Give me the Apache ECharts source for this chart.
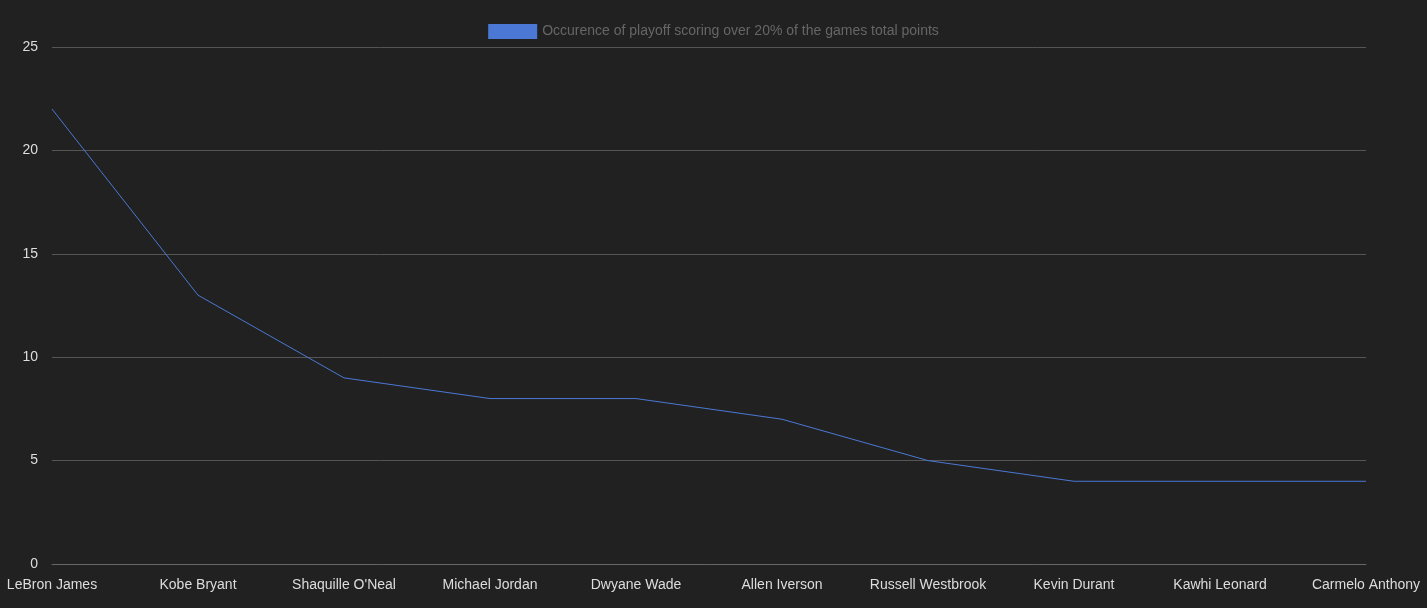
<!DOCTYPE html>
<html>
<head>
<meta charset="UTF-8">
<script src="https://cdn.jsdelivr.net/npm/echarts@6/dist/echarts.min.js"></script>
<style>html,body{margin:0;background:#212121;}</style>
</head>
<body>
<div id="chart" style="width:1427px;height:608px;"></div>
<script>
var players = ['LeBron James', 'Kobe Bryant', "Shaquille O'Neal", 'Michael Jordan', 'Dwyane Wade',
    'Allen Iverson', 'Russell Westbrook', 'Kevin Durant', 'Kawhi Leonard', 'Carmelo Anthony'];
var occurences = [22, 13, 9, 8, 8, 7, 5, 4, 4, 4];
var seriesName = 'Occurence of playoff scoring over 20% of the games total points';

var chart = echarts.init(document.getElementById('chart'));
chart.setOption({
    backgroundColor: '#212121',
    animation: false,
    legend: {
        top: 19,
        itemWidth: 49,
        itemHeight: 15,
        itemGap: 7,
        icon: 'rect',
        textStyle: { color: '#666', fontSize: 14, fontFamily: 'Liberation Sans, Arial' },
        data: [{ name: seriesName, icon: 'rect' }]
    },
    grid: { left: 52, right: 61, top: 47, bottom: 44 },
    xAxis: {
        type: 'category',
        data: players,
        boundaryGap: false,
        axisLine: { lineStyle: { color: '#666' } },
        axisTick: { show: false },
        axisLabel: { color: '#ddd', fontSize: 14, margin: 14, interval: 0, fontFamily: 'Liberation Sans, Arial' }
    },
    yAxis: {
        type: 'value',
        min: 0, max: 25, interval: 5,
        axisLine: { show: false },
        axisTick: { show: false },
        axisLabel: { color: '#ddd', fontSize: 14, margin: 14, fontFamily: 'Liberation Sans, Arial' },
        splitLine: { lineStyle: { color: '#555' } }
    },
    series: [{
        name: seriesName,
        type: 'line',
        data: occurences,
        showSymbol: false,
        itemStyle: { color: '#4a78d4' },
        lineStyle: { color: '#4a78d4', width: 1 }
    }]
});
</script>
</body>
</html>
